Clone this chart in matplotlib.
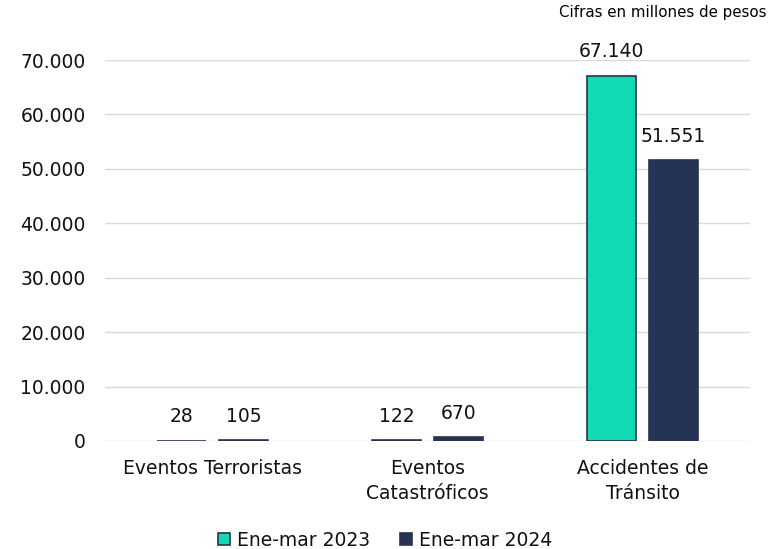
import numpy as np
import matplotlib.pyplot as plt
from matplotlib.ticker import FuncFormatter

categories = ["Eventos Terroristas", "Eventos\nCatastróficos", "Accidentes de\nTránsito"]
series_names = ["Ene-mar 2023", "Ene-mar 2024"]
values_2023 = [28, 122, 67140]
values_2024 = [105, 670, 51551]

colors = ["#10d9b4", "#253454"]
edge = "#2a3450"

plt.rcParams["font.family"] = ["DejaVu Sans"]

fig = plt.figure(figsize=(7.7, 5.49), dpi=100)
ax = fig.add_axes([105 / 770, 1 - 441 / 549, 645 / 770, 381 / 549])

x = np.arange(len(categories))
w = 0.225
off = 0.145

def fmt(v):
    return f"{v:,.0f}".replace(",", ".")

for vals, c, name, d in [(values_2023, colors[0], series_names[0], -off),
                         (values_2024, colors[1], series_names[1], off)]:
    bars = ax.bar(x + d, vals, w, color=c, edgecolor=edge, linewidth=1.2, label=name, zorder=3)
    for b, v in zip(bars, vals):
        ax.text(b.get_x() + b.get_width() / 2, v + 2700, fmt(v),
                ha="center", va="bottom", fontsize=13.5, color="#111111")

ax.set_xlim(-0.5, 2.5)
ax.set_ylim(0, 70000)
ax.set_yticks(np.arange(0, 70001, 10000))
ax.yaxis.set_major_formatter(FuncFormatter(lambda v, p: fmt(v)))
ax.set_xticks(x)
ax.set_xticklabels(categories, fontsize=13.5, linespacing=1.4)
ax.tick_params(axis="y", labelsize=13.5, labelcolor="#111111", length=0, pad=14)
ax.tick_params(axis="x", labelcolor="#111111", length=0, pad=13)
ax.grid(axis="y", color="#d9d9d9", linewidth=1, zorder=0)
for s in ax.spines.values():
    s.set_visible(False)

fig.text(0.995, 0.977, "Cifras en millones de pesos", ha="right", va="center", fontsize=10.8)

fig.legend(loc="lower center", bbox_to_anchor=(0.5, -0.032), ncol=2, frameon=False,
           fontsize=13.5, handlelength=0.65, handleheight=0.65, handletextpad=0.35,
           columnspacing=1.6, labelcolor="#111111")

fig.savefig("out.png", dpi=100)
